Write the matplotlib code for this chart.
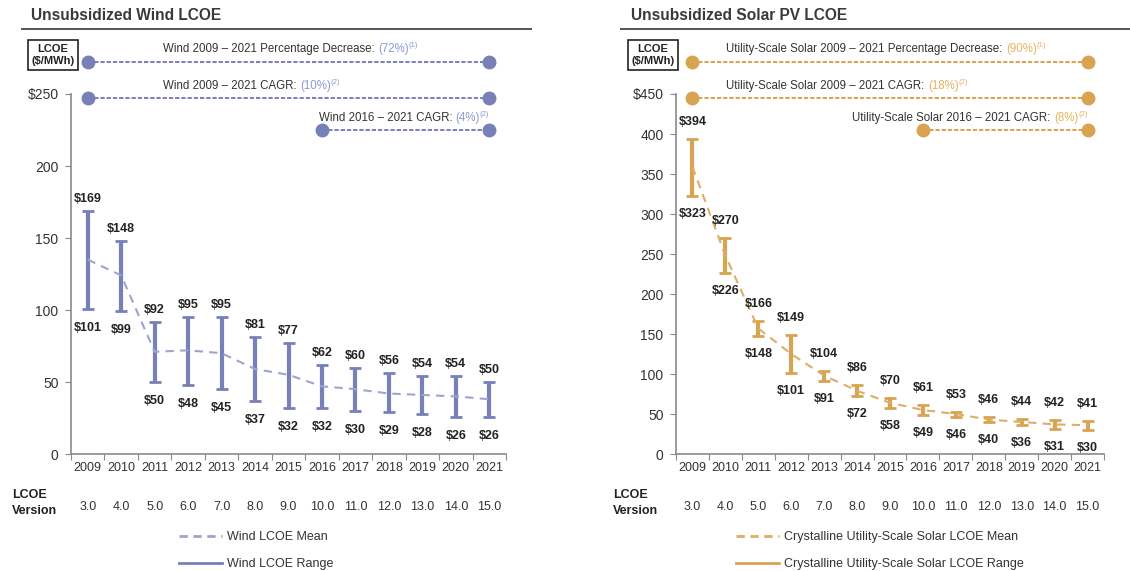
import matplotlib
matplotlib.use("Agg")
import matplotlib.pyplot as plt
from matplotlib.lines import Line2D

plt.rcParams['font.family'] = ['Liberation Sans', 'DejaVu Sans']

years = [str(y) for y in range(2009, 2022)]
versions = ["3.0", "4.0", "5.0", "6.0", "7.0", "8.0", "9.0", "10.0",
            "11.0", "12.0", "13.0", "14.0", "15.0"]

wind_high = [169, 148, 92, 95, 95, 81, 77, 62, 60, 56, 54, 54, 50]
wind_low = [101, 99, 50, 48, 45, 37, 32, 32, 30, 29, 28, 26, 26]
wind_mean = [135, 124, 71, 72, 70, 59, 55, 47, 45, 42, 41, 40, 38]

solar_high = [394, 270, 166, 149, 104, 86, 70, 61, 53, 46, 44, 42, 41]
solar_low = [323, 226, 148, 101, 91, 72, 58, 49, 46, 40, 36, 31, 30]
solar_mean = [359, 248, 157, 125, 98, 79, 64, 55, 50, 43, 40, 37, 36]

wind_callouts = [
    ("Wind 2009 \u2013 2021 Percentage Decrease: ", "(72%)", "(1)"),
    ("Wind 2009 \u2013 2021 CAGR: ", "(10%)", "(2)"),
    ("Wind 2016 \u2013 2021 CAGR: ", "(4%)", "(2)"),
]
solar_callouts = [
    ("Utility-Scale Solar 2009 \u2013 2021 Percentage Decrease: ", "(90%)", "(1)"),
    ("Utility-Scale Solar 2009 \u2013 2021 CAGR: ", "(18%)", "(2)"),
    ("Utility-Scale Solar 2016 \u2013 2021 CAGR: ", "(8%)", "(2)"),
]

TEXT = '#222222'
TICK = '#333333'
AXIS = '#8a8a8a'

fig = plt.figure(figsize=(11.3, 5.71), dpi=100)
fig.patch.set_facecolor('white')

callout_texts = []


def draw_callout(ax, y_line, y_text, x0, x1, tx, align, parts, color, value_color):
    trans = ax.get_xaxis_transform()
    ax.plot([x0, x1], [y_line, y_line], transform=trans, color=color, lw=1.4,
            linestyle=(0, (2.2, 1.0)), marker='o', markersize=9, clip_on=False)
    prefix, value, note = parts
    t1 = ax.annotate(prefix, xy=(tx, y_text), xycoords=trans, xytext=(0, 0),
                     textcoords='offset pixels', ha='left', va='baseline',
                     fontsize=8.3, color='#333333', annotation_clip=False)
    t2 = ax.annotate(value, xy=(1, 0), xycoords=t1, ha='left', va='bottom',
                     fontsize=8.3, color=value_color, annotation_clip=False)
    t3 = ax.annotate(note, xy=(1, 0.5), xycoords=t2, ha='left', va='bottom',
                     fontsize=5.5, color=value_color, annotation_clip=False)
    callout_texts.append((t1, t3, align))


def draw_panel(rect, title, title_x, rule, ymax, yticks, high, low, mean,
               color, mean_color, value_color, callouts, text_x, up, down,
               box_x, version_x, legend_x, labels):
    ax = fig.add_axes(rect)
    x = list(range(len(years)))

    yerr = [[m - l for m, l in zip(mean, low)], [h - m for h, m in zip(high, mean)]]
    ax.errorbar(x, mean, yerr=yerr, fmt='none', ecolor=color, elinewidth=3,
                capsize=4, capthick=2, zorder=2)
    ax.plot(x, mean, color=mean_color, lw=1.5, linestyle=(0, (4, 3)), zorder=3)

    for i, (h, l) in enumerate(zip(high, low)):
        ax.annotate(f"${h}", xy=(i, h), xytext=(0, up), textcoords='offset pixels',
                    ha='center', va='center', fontsize=9, fontweight='bold', color=TEXT)
        ax.annotate(f"${l}", xy=(i, l), xytext=(0, -down), textcoords='offset pixels',
                    ha='center', va='center', fontsize=9, fontweight='bold', color=TEXT)

    ax.set_xlim(-0.5, 12.5)
    ax.set_ylim(0, ymax)
    for s in ['top', 'right']:
        ax.spines[s].set_visible(False)
    for s in ['left', 'bottom']:
        ax.spines[s].set_color(AXIS)
        ax.spines[s].set_linewidth(1.2)

    ax.set_yticks(yticks)
    ax.set_yticklabels([f"${t}" if t == ymax else str(t) for t in yticks])
    ax.tick_params(axis='y', direction='out', length=4, color=AXIS, labelsize=10,
                   labelcolor=TICK, pad=5)
    ax.set_xticks([i - 0.5 for i in range(len(years) + 1)])
    ax.set_xticklabels([])
    ax.set_xticks(x, minor=True)
    ax.set_xticklabels(years, minor=True)
    ax.tick_params(axis='x', which='major', direction='out', length=4, color=AXIS)
    ax.tick_params(axis='x', which='minor', length=0, labelsize=9, labelcolor=TICK, pad=6)

    trans = ax.get_xaxis_transform()
    for i, v in enumerate(versions):
        ax.text(i, -0.146, v, transform=trans, ha='center', va='center',
                fontsize=9, color=TICK)
    fig.text(version_x, 1 - 503 / 571, "LCOE\nVersion", ha='left', va='center',
             fontsize=9, fontweight='bold', color=TEXT, linespacing=1.4)

    # callout lines with the headline change figures
    draw_callout(ax, 1.089, 1.118, 0, 12, text_x, 'left', callouts[0], color, value_color)
    draw_callout(ax, 0.989, 1.014, 0, 12, text_x, 'left', callouts[1], color, value_color)
    draw_callout(ax, 0.900, 0.925, 7, 12, 12.0, 'right', callouts[2], color, value_color)

    fig.text(title_x, 1 - 16 / 571, title, ha='left', va='center', fontsize=11.2,
             fontweight='bold', color='#3a3a3a')
    fig.add_artist(Line2D([rule[0] / 1130, rule[1] / 1130], [1 - 29 / 571] * 2,
                          transform=fig.transFigure, color='#555555', lw=1.4))
    fig.text(box_x, 1 - 55 / 571, "LCOE\n($/MWh)", ha='center', va='center',
             fontsize=8, fontweight='bold', color=TEXT, linespacing=1.35,
             bbox=dict(boxstyle='square,pad=0.35', fc='white', ec='#222222', lw=1.2))

    handles = [Line2D([], [], color=mean_color, lw=2, linestyle=(0, (3, 2))),
               Line2D([], [], color=color, lw=2)]
    fig.legend(handles, labels, loc='upper left',
               bbox_to_anchor=(legend_x, 1 - 531 / 571), frameon=False,
               fontsize=9, handlelength=3.4, handletextpad=0.45,
               labelspacing=1.2, borderpad=0, borderaxespad=0,
               labelcolor=TICK)
    return ax


draw_panel([71 / 1130, 1 - 454 / 571, 435 / 1130, 360 / 571],
           "Unsubsidized Wind LCOE", 31 / 1130, (22, 531), 250,
           [0, 50, 100, 150, 200, 250], wind_high, wind_low, wind_mean,
           '#7880b8', '#9ea4cf', '#8f99d0', wind_callouts, 2.25, 12, 19,
           53 / 1130, 12 / 1130, 179 / 1130,
           ["Wind LCOE Mean", "Wind LCOE Range"])

draw_panel([676 / 1130, 1 - 454 / 571, 428 / 1130, 360 / 571],
           "Unsubsidized Solar PV LCOE", 631 / 1130, (621, 1130), 450,
           [0, 50, 100, 150, 200, 250, 300, 350, 400, 450],
           solar_high, solar_low, solar_mean,
           '#d8a452', '#dcae6a', '#e3b463', solar_callouts, 1.03, 17, 18,
           653 / 1130, 613 / 1130, 736 / 1130,
           ["Crystalline Utility-Scale Solar LCOE Mean",
            "Crystalline Utility-Scale Solar LCOE Range"])

# shift the right-aligned callout texts now that their widths are known
fig.canvas.draw()
renderer = fig.canvas.get_renderer()
for first, last, align in callout_texts:
    if align == 'right':
        width = last.get_window_extent(renderer).x1 - first.get_window_extent(renderer).x0
        first.xyann = (-width, 0)

fig.savefig("out.png", dpi=100, facecolor='white')
